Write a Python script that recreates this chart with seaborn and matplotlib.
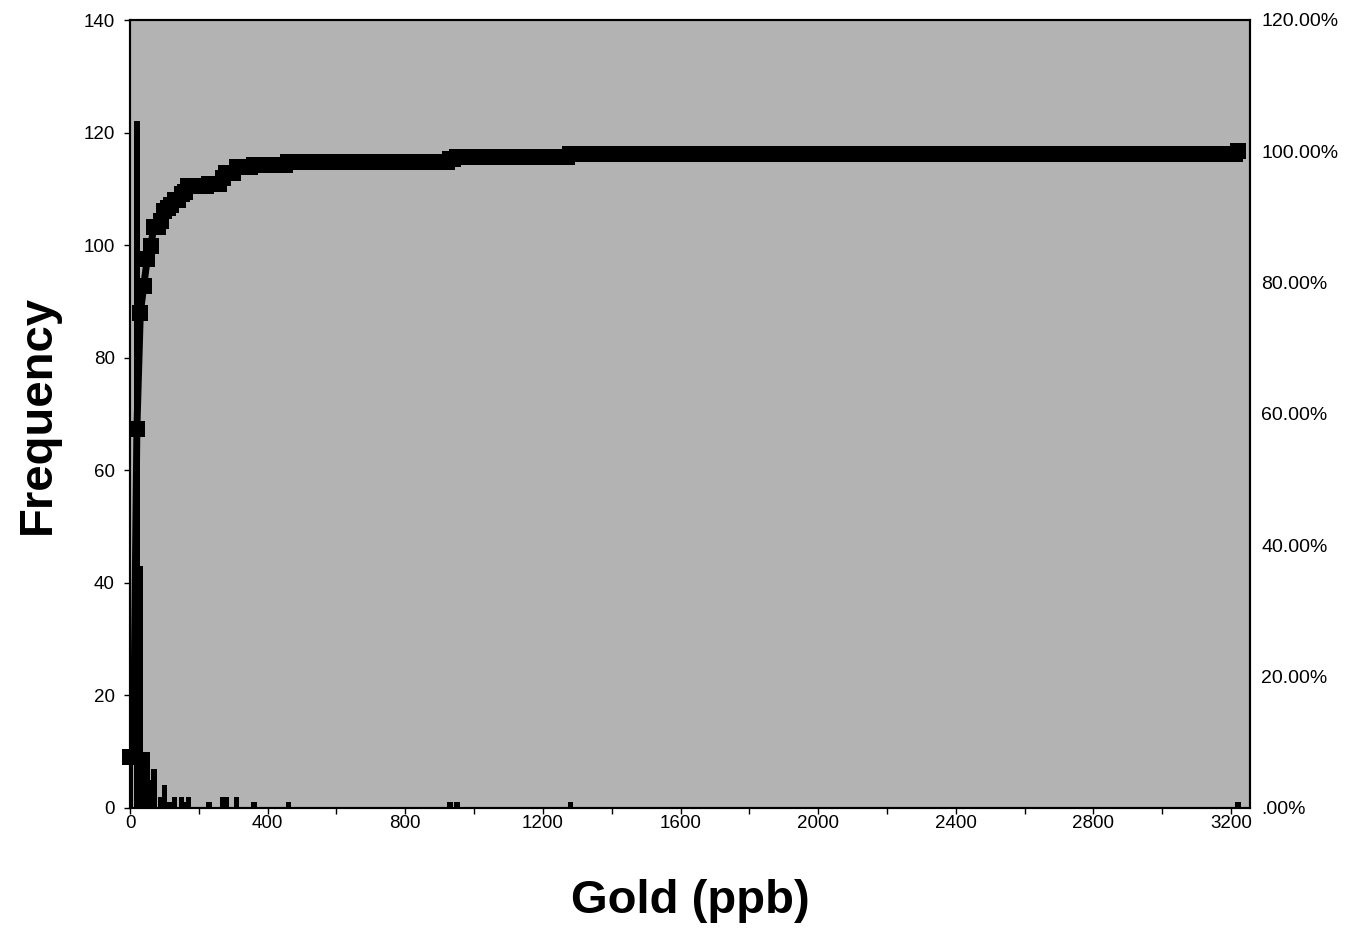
import numpy as np
import pandas as pd
import seaborn as sns
from matplotlib import pyplot as plt
from matplotlib.ticker import MultipleLocator, FuncFormatter

# histogram bins (ppb, every 10) and the counts
bin_step = 10
bin_max = 3220
count_bins = [0, 20, 30, 40, 50, 60, 70, 90, 100, 110, 120, 130, 150, 160, 170,
              230, 270, 280, 310, 360, 460, 930, 950, 1280, 3220]
counts = [19, 122, 43, 10, 10, 5, 7, 2, 4, 1, 1, 2, 2, 1, 2,
          1, 2, 2, 2, 1, 1, 1, 1, 1, 1]

x_ticks = [0, 400, 800, 1200, 1600, 2000, 2400, 2800, 3200]
freq_ticks = [0, 20, 40, 60, 80, 100, 120, 140]
pct_ticks = [0, 0.2, 0.4, 0.6, 0.8, 1.0, 1.2]

bins = np.arange(0, bin_max + bin_step, bin_step)
freq = pd.Series(0, index=bins)
freq.loc[count_bins] = counts
df = pd.DataFrame({'Gold': bins, 'Frequency': freq.values})
df['Cumulative'] = df['Frequency'].cumsum() / df['Frequency'].sum()

sns.set_theme(style='ticks')
plt.rcParams['font.family'] = ['Liberation Sans', 'DejaVu Sans']

fig = plt.figure(figsize=(13.55, 9.32), dpi=100)
ax = fig.add_axes([130 / 1355, 124 / 932, 1120 / 1355, 788 / 932])
ax.set_facecolor('#b3b3b3')

sns.histplot(data=df, x='Gold', weights='Frequency',
             binwidth=bin_step, binrange=(-bin_step / 2, bin_max + bin_step / 2),
             color='black', edgecolor='none', alpha=1, ax=ax)
# excel columns are a bit wider than the bin step
for p in ax.patches:
    p.set_x(p.get_x() - 3)
    p.set_width(p.get_width() + 6)

ax2 = ax.twinx()
sns.lineplot(data=df, x='Gold', y='Cumulative', color='black', linewidth=5,
             marker='s', markersize=11, markeredgewidth=0, ax=ax2)
for ln in ax2.lines:
    ln.set_clip_on(False)

ax.set_xlim(0, 3255)
ax.set_ylim(0, 140)
ax2.set_ylim(0, 1.2)

ax.set_xticks(x_ticks)
ax.xaxis.set_minor_locator(MultipleLocator(200))
ax.set_yticks(freq_ticks)
ax2.set_yticks(pct_ticks)
ax2.yaxis.set_major_formatter(FuncFormatter(
    lambda v, p: '.00%' if v == 0 else f'{v * 100:.2f}%'))

ax.tick_params(axis='x', which='both', length=4, width=1, pad=1,
               labelsize=13.5, colors='black')
ax.tick_params(axis='y', length=4, width=1, pad=7, labelsize=13.5, colors='black')
ax2.tick_params(axis='y', length=0, pad=8, labelsize=14, colors='black')

ax.set_xlabel('Gold (ppb)', fontsize=34, fontweight='bold', labelpad=34, color='black')
ax.set_ylabel('Frequency', fontsize=34, fontweight='bold', labelpad=17, color='black')
ax2.set_ylabel('')

for a in (ax, ax2):
    for s in a.spines.values():
        s.set_visible(True)
        s.set_color('black')
        s.set_linewidth(1.5)

fig.savefig('out.png', dpi=100)
